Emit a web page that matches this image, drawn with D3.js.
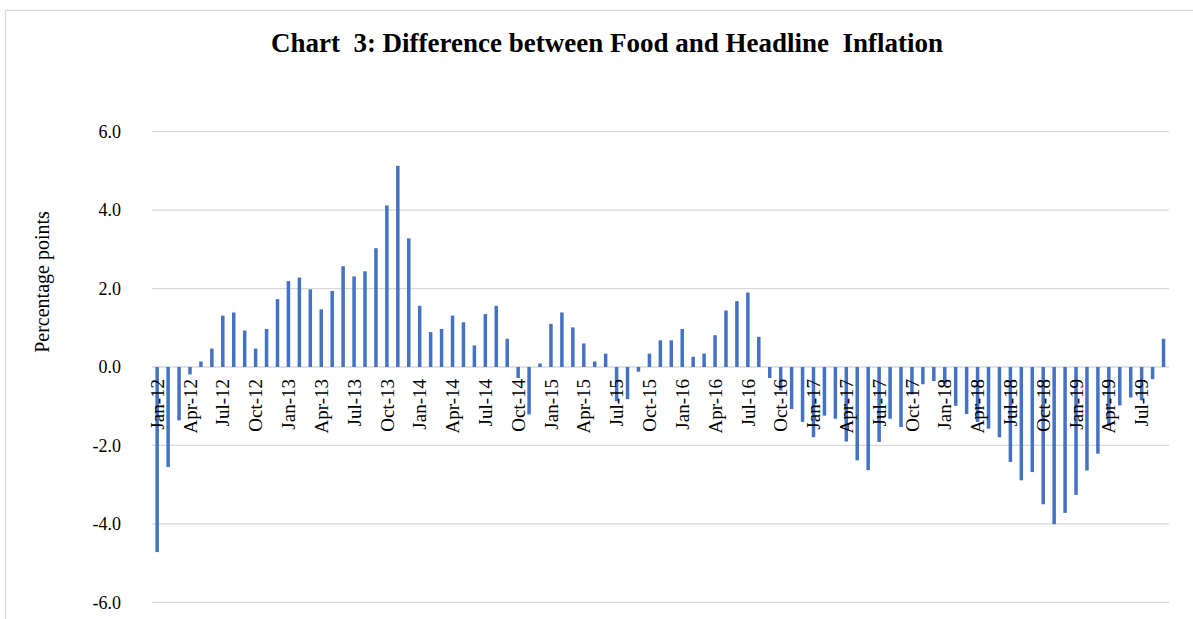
<!DOCTYPE html>
<html>
<head>
<meta charset="utf-8">
<script src="https://cdn.jsdelivr.net/npm/d3@7/dist/d3.min.js"></script>
<style>
  html, body { margin: 0; padding: 0; background: #fff; }
  svg { display: block; }
  svg text { font-family: "Liberation Serif", "Times New Roman", serif; }
</style>
</head>
<body>
<svg id="chart" width="1193" height="619"></svg>
<script>
const title = "Chart  3: Difference between Food and Headline  Inflation";
const yAxisTitle = "Percentage points";
const monthNames = ["Jan","Feb","Mar","Apr","May","Jun","Jul","Aug","Sep","Oct","Nov","Dec"];
const years = ["12","13","14","15","16","17","18","19"];
const categories = [];
years.forEach(y => monthNames.forEach(m => categories.push(m + "-" + y)));
categories.length = 93; // Jan-12 .. Sep-19

const values = [
  -4.72, -2.55, -1.36, -0.19, 0.14, 0.47, 1.31, 1.39, 0.93, 0.47, 0.97, 1.73,
  2.19, 2.28, 1.98, 1.47, 1.94, 2.57, 2.31, 2.44, 3.03, 4.12, 5.13, 3.28,
  1.56, 0.89, 0.97, 1.31, 1.14, 0.55, 1.35, 1.56, 0.72, -0.28, -1.21, 0.09,
  1.10, 1.39, 1.01, 0.60, 0.14, 0.34, -0.87, -0.82, -0.12, 0.34, 0.68, 0.68,
  0.97, 0.26, 0.34, 0.81, 1.44, 1.68, 1.90, 0.77, -0.28, -0.60, -1.07, -1.40,
  -1.79, -1.24, -1.32, -1.90, -2.38, -2.63, -1.91, -1.32, -1.53, -0.70, -0.44, -0.36,
  -0.45, -0.99, -1.20, -1.40, -1.57, -1.79, -2.42, -2.89, -2.68, -3.50, -4.01, -3.72,
  -3.26, -2.64, -2.21, -1.50, -0.98, -0.78, -0.85, -0.31, 0.72
];
const yTicks = [-6, -4, -2, 0, 2, 4, 6];
const xTickLabels = categories.filter((c, i) => i % 3 === 0);

const svg = d3.select("#chart");
const plotLeft = 151.7, plotRight = 1169, plotTop = 131.7, plotBottom = 602.3;
const serif = "'Liberation Serif', 'Times New Roman', serif";

// outer border
svg.append("rect")
  .attr("x", 5.5).attr("y", 10.5)
  .attr("width", 1300).attr("height", 800)
  .attr("fill", "none").attr("stroke", "#d9d9d9").attr("stroke-width", 1.2);

const x = d3.scaleBand().domain(categories).range([plotLeft, plotRight]).paddingInner(0.68).paddingOuter(0.34);
const y = d3.scaleLinear().domain([-6, 6]).range([plotBottom, plotTop]);

// gridlines
svg.append("g")
  .selectAll("line").data(yTicks).join("line")
  .attr("x1", plotLeft).attr("x2", plotRight)
  .attr("y1", d => y(d)).attr("y2", d => y(d))
  .attr("stroke", "#d9d9d9").attr("stroke-width", 1.3);

// y axis labels
const yAxis = d3.axisLeft(y).tickValues(yTicks).tickFormat(d => d.toFixed(1)).tickSize(0).tickPadding(0);
const gy = svg.append("g").attr("transform", `translate(121,0)`).call(yAxis);
gy.attr("font-family", serif).attr("font-size", 18);
gy.select(".domain").remove();
gy.selectAll("text").attr("fill", "#000");

// bars
svg.append("g")
  .selectAll("rect").data(values).join("rect")
  .attr("x", (d, i) => x(categories[i]))
  .attr("width", x.bandwidth())
  .attr("y", d => y(Math.max(0, d)))
  .attr("height", d => Math.abs(y(d) - y(0)))
  .attr("fill", "#4472C4");

// x axis labels (rotated)
const xAxis = d3.axisBottom(x).tickValues(xTickLabels).tickSize(0).tickPadding(0);
const gx = svg.append("g").attr("transform", `translate(0,${y(0)})`).call(xAxis);
gx.attr("font-family", serif).attr("font-size", 19);
gx.select(".domain").remove();
gx.selectAll("text")
  .attr("fill", "#000")
  .attr("text-anchor", "end")
  .attr("transform", "translate(0,12) rotate(-90)")
  .attr("x", 0).attr("y", 0).attr("dy", "0.35em");

// title
svg.append("text")
  .attr("x", 607).attr("y", 52)
  .attr("text-anchor", "middle")
  .attr("font-family", serif)
  .attr("font-weight", "bold").attr("font-size", 27)
  .style("white-space", "pre")
  .text(title);

// y axis title
svg.append("text")
  .attr("transform", "translate(49,282) rotate(-90)")
  .attr("text-anchor", "middle")
  .attr("font-family", serif)
  .attr("font-size", 20)
  .text(yAxisTitle);
</script>
</body>
</html>
